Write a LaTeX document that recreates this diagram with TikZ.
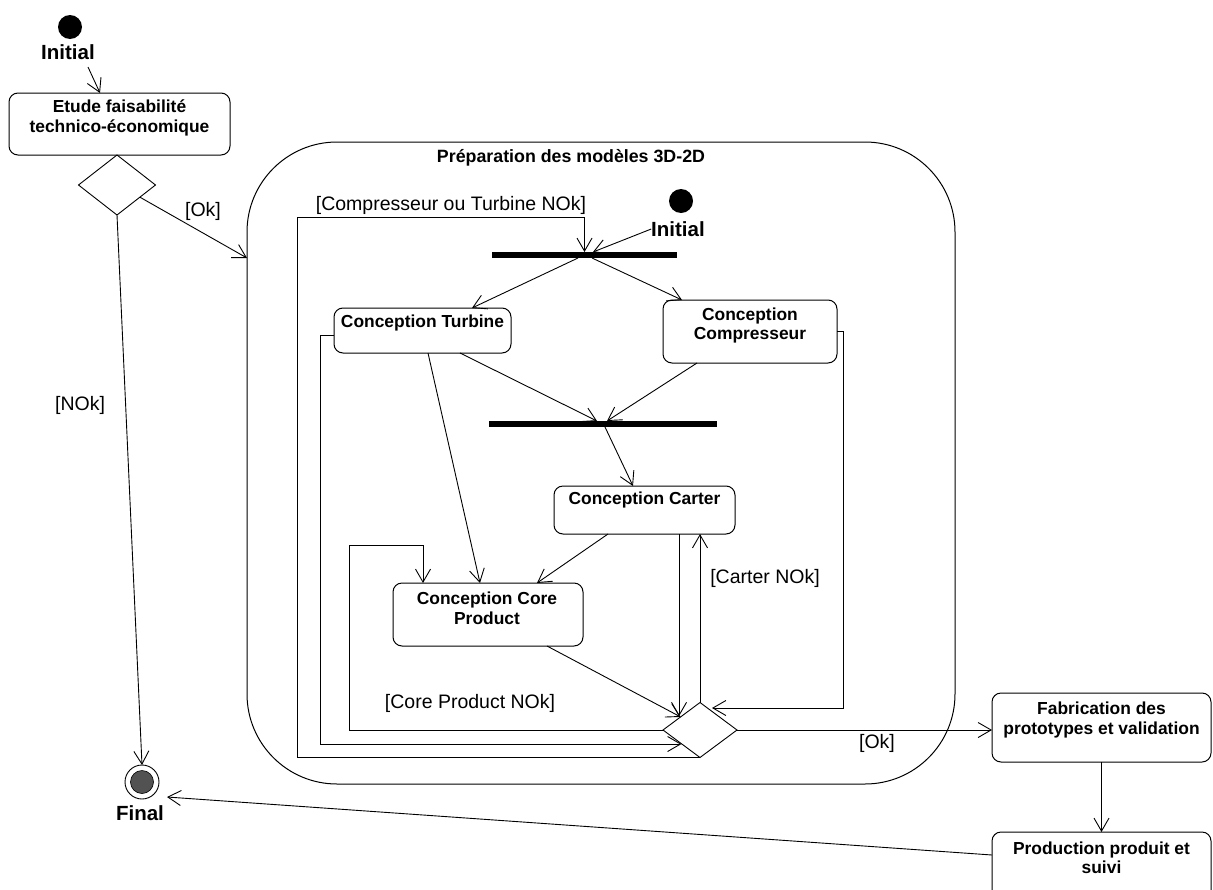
\documentclass[tikz,border=0pt]{standalone}
\usepackage{fontspec}
\setmainfont{Liberation Sans}
\usetikzlibrary{arrows.meta,shapes.geometric}
\begin{document}
\begin{tikzpicture}[x=1pt,y=-1pt,
  every node/.style={inner sep=0pt, outer sep=0pt},
  act/.style={draw, line width=1pt, rounded corners=9pt},
  bf/.style={font=\fontsize{17.4}{19.5}\selectfont\bfseries, align=center},
  grd/.style={font=\fontsize{19.5}{22}\selectfont},
  lbl/.style={font=\fontsize{20.5}{22}\selectfont\bfseries},
  bar/.style={fill=black, draw=none},
  dec/.style={diamond, draw, line width=0.9pt},
  flow/.style={line width=0.9pt, -{Straight Barb[length=13pt,width=15pt]}},
  wire/.style={line width=0.9pt}
]
\fill[white] (0,0) rectangle (1213,889);
\useasboundingbox (0,0) rectangle (1213,889);

% container
\node[draw, line width=1pt, rounded corners=90pt, minimum width=708pt, minimum height=642pt] (cont) at (601,463) {};
\node[font=\fontsize{17.8}{20}\selectfont\bfseries] (title) at (571,158) {Préparation des modèles 3D-2D};

% initial / final
\node[circle, fill=black, minimum size=24pt] (init1) at (70,27) {};
\node[lbl] (init1l) at (68,52) {Initial};
\node[circle, fill=black, minimum size=24pt] (init2) at (681,201) {};
\node[lbl] (init2l) at (678,229) {Initial};
\node[circle, draw, line width=0.9pt, minimum size=34pt] (fin) at (142,782) {};
\node[circle, fill=black!68, draw=black, line width=0.6pt, minimum size=23pt] (finin) at (142,782) {};
\node[lbl] (finl) at (140,813) {Final};

% activity boxes
\node[act, minimum width=221pt, minimum height=62pt] (etude) at (119.5,124) {};
\node[bf] (etudet) at (119.5,118) {Etude faisabilité\\technico-économique};
\node[act, minimum width=177pt, minimum height=45pt] (turb) at (422.5,330.5) {};
\node[bf] (turbt) at (422.5,323) {Conception Turbine};
\node[act, minimum width=174pt, minimum height=63pt] (comp) at (750,331.5) {};
\node[bf] (compt) at (750,325.5) {Conception\\Compresseur};
\node[act, minimum width=181pt, minimum height=48pt] (carter) at (644.5,510) {};
\node[bf] (cartert) at (644.5,500) {Conception Carter};
\node[act, minimum width=190pt, minimum height=63pt] (core) at (488,614.5) {};
\node[bf] (coret) at (487,608.5) {Conception Core\\Product};
\node[act, minimum width=219pt, minimum height=69pt] (fab) at (1101.5,727.5) {};
\node[bf] (fabt) at (1101.5,720) {Fabrication des\\prototypes et validation};
\node[act, minimum width=219pt, minimum height=75pt] (prod) at (1101.5,869.5) {};
\node[bf] (prodt) at (1101.5,858) {Production produit et\\suivi};

% bars
\node[bar, minimum width=185pt, minimum height=6pt] (fork) at (584.5,255) {};
\node[bar, minimum width=228pt, minimum height=6pt] (join) at (603,424) {};

% decisions
\node[dec, minimum width=77pt, minimum height=60pt] (d1) at (117,185) {};
\node[dec, minimum width=74pt, minimum height=55pt] (d2) at (700,730) {};

% guards
\node[grd] (gok1) at (203,211) {[Ok]};
\node[grd] (gnok) at (80,405) {[NOk]};
\node[grd] (gct) at (451,205) {[Compresseur ou Turbine NOk]};
\node[grd] (gcarter) at (765,578) {[Carter NOk]};
\node[grd] (gcore) at (470,703) {[Core Product NOk]};
\node[grd] (gok2) at (877,743) {[Ok]};

% helper coordinates
\coordinate (s1) at (88,67);
\coordinate (finpt) at ([shift={(25,15)}]fin.center);
\coordinate (lpA) at (297,217);
\coordinate (rl) at (843,708);
\coordinate (tl) at (320,744);
\coordinate (cl) at (349,545);
\coordinate (cv) at ([shift={(34.5,0)}]carter.south);

% connectors
\draw[flow] (s1) -- ([shift={(-19.5,0)}]etude.north);
\draw[flow] (d1.-28) -- ([shift={(0,-205)}]cont.west);
\draw[flow] (d1.south) -- (fin.north);
\draw[flow] ([shift={(0,-14.5)}]prod.west) -- (finpt);
\draw[flow] (fab.south) -- (fab.south |- prod.north);
\draw[flow] (d2.east) -- (d2.east -| fab.west);
\draw[flow] (init2l.west) -- ([shift={(8.5,0)}]fork.north);
\draw[flow] (d2.south) -| (lpA) -| (fork.north);
\draw[flow] ([shift={(-6.5,0)}]fork.south) -- ([shift={(49.5,0)}]turb.north);
\draw[flow] ([shift={(7.5,0)}]fork.south) -- ([shift={(-68,0)}]comp.north);
\draw[flow] ([shift={(37.5,0)}]turb.south) -- ([shift={(-6,0)}]join.north);
\draw[flow] ([shift={(-53,0)}]comp.south) -- ([shift={(4,0)}]join.north);
\draw[flow] ([shift={(2,0)}]join.south) -- ([shift={(-11.5,0)}]carter.north);
\draw[flow] ([shift={(5.5,0)}]turb.south) -- ([shift={(-8,0)}]core.north);
\draw[flow] ([shift={(-36.5,0)}]carter.south) -- ([shift={(49,0)}]core.north);
\draw[flow] ([shift={(59,0)}]core.south) -- (d2.146);
\draw[flow] (cv) -- (cv |- d2.north west);
\draw[flow] (d2.north) -- (d2.north |- carter.south);
\draw[flow] (comp.east) -| (rl) -- ([shift={(12,5.5)}]d2.north);
\draw[flow] ([shift={(0,4.5)}]turb.west) -| (tl) -- (tl -| d2.south west);
\draw[flow] (d2.west) -| (cl) -| ([shift={(-65,0)}]core.north);
\end{tikzpicture}
\end{document}
